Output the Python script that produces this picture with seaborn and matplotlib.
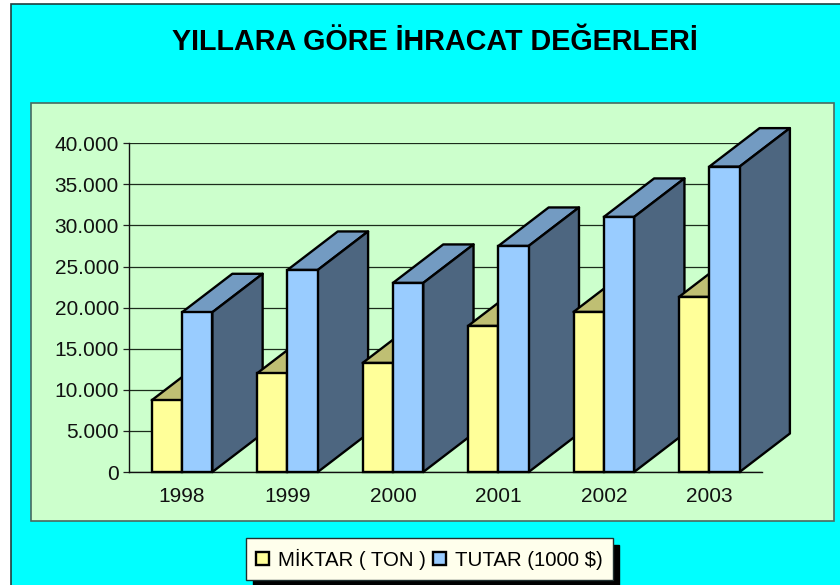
import matplotlib
matplotlib.use('Agg')
import matplotlib.pyplot as plt
from matplotlib.patches import Polygon, Rectangle
import seaborn as sns
import pandas as pd

years = ['1998', '1999', '2000', '2001', '2002', '2003']
miktar = [8725, 12010, 13265, 17770, 19470, 21300]
tutar = [19430, 24580, 23000, 27500, 31030, 37150]
y_ticks = [0, 5000, 10000, 15000, 20000, 25000, 30000, 35000, 40000]
y_labels = ['0', '5.000', '10.000', '15.000', '20.000', '25.000', '30.000', '35.000', '40.000']
series_names = ['MİKTAR ( TON )', 'TUTAR (1000 $)']

W, H = 840, 585

df = pd.DataFrame({'yil': years * 2,
                   'deger': miktar + tutar,
                   'seri': [series_names[0]] * 6 + [series_names[1]] * 6})

plt.rcParams['font.family'] = ['Liberation Sans', 'DejaVu Sans']

fig = plt.figure(figsize=(W / 100, H / 100), dpi=100, facecolor='white')

# outer cyan area and green panel, in pixels from the top left
def box(x0, y0, x1, y1, **kw):
    fig.add_artist(Rectangle((x0 / W, 1 - y1 / H), (x1 - x0) / W, (y1 - y0) / H,
                             transform=fig.transFigure, zorder=-5, **kw))

box(10.5, 3.5, 845, 590, facecolor='#00FFFF', edgecolor='#204040', linewidth=1.2)
box(30.5, 103, 833.5, 520.7, facecolor='#CCFFCC', edgecolor='#4A6A60', linewidth=1.2)

ax = fig.add_axes([129.3 / W, 1 - 472 / H, (762 - 129.3) / W, (472 - 143.2) / H])
ax.patch.set_alpha(0)

face_colors = ['#FFFF99', '#99CCFF']
top_colors = ['#BFBF73', '#739BC2']
side_colors = ['#808050', '#4D6680']

sns.barplot(data=df, x='yil', y='deger', hue='seri', order=years, hue_order=series_names,
            palette=face_colors, saturation=1, width=0.575, gap=0, dodge=True,
            edgecolor='black', linewidth=1.7, ax=ax)

ax.set_xlim(-0.5, 5.5)
ax.set_ylim(0, 40000)
ax.set_xlabel('')
ax.set_ylabel('')
ax.set_yticks(y_ticks)
ax.set_yticklabels(y_labels)
ax.tick_params(axis='y', labelsize=15, length=4.5, width=0.9, pad=3, color='#202020', labelcolor='#111111')
ax.tick_params(axis='x', labelsize=15, length=0, pad=11, labelcolor='#111111')
for name in ['top', 'right']:
    ax.spines[name].set_visible(False)
for name in ['left', 'bottom']:
    ax.spines[name].set_linewidth(1.0)
    ax.spines[name].set_color('#101010')
ax.set_axisbelow(True)
ax.grid(axis='y', color='#1C2C1C', linewidth=0.9)
ax.grid(axis='x', visible=False)

# 3D depth of the bars: about 50 px right and 38.5 px up
dx = 50.3 / ((762 - 129.3) / 6)
dy = 38.5 / (472 - 143.2) * 40000

for s, bars in enumerate(ax.containers[:2]):
    for i, bar in enumerate(bars):
        x0 = bar.get_x()
        x1 = x0 + bar.get_width()
        top = bar.get_height()
        z = 3 + i + s * 0.5
        bar.set_zorder(z + 0.2)
        bar.set_clip_on(False)
        ax.add_patch(Polygon([(x0, top), (x0 + dx, top + dy), (x1 + dx, top + dy), (x1, top)],
                             facecolor=top_colors[s], edgecolor='black', linewidth=1.7,
                             joinstyle='round', zorder=z, clip_on=False))
        ax.add_patch(Polygon([(x1, 0), (x1, top), (x1 + dx, top + dy), (x1 + dx, dy)],
                             facecolor=side_colors[s], edgecolor='black', linewidth=1.7,
                             joinstyle='round', zorder=z + 0.1, clip_on=False))

fig.text(434.5 / W, 1 - 42.5 / H, 'YILLARA GÖRE İHRACAT DEĞERLERİ', ha='center', va='center',
         fontsize=20.7, fontweight='bold', color='black')

handles, labels = ax.get_legend_handles_labels()
leg = ax.legend(handles, labels, ncol=2, loc='center', bbox_to_anchor=(429.7 / W, 1 - 559 / H),
                bbox_transform=fig.transFigure, fontsize=14.7, frameon=True, fancybox=False,
                facecolor='#FFFFEC', edgecolor='#203030', framealpha=1,
                handlelength=0.62, handleheight=0.62, handletextpad=0.45, columnspacing=0.35,
                borderpad=0.5, borderaxespad=0,
                shadow={'ox': 4.5, 'oy': -4.5, 'color': 'black', 'alpha': 1})
leg.set_zorder(20)
leg.get_frame().set_linewidth(1.0)

fig.savefig('out.png', dpi=100)
